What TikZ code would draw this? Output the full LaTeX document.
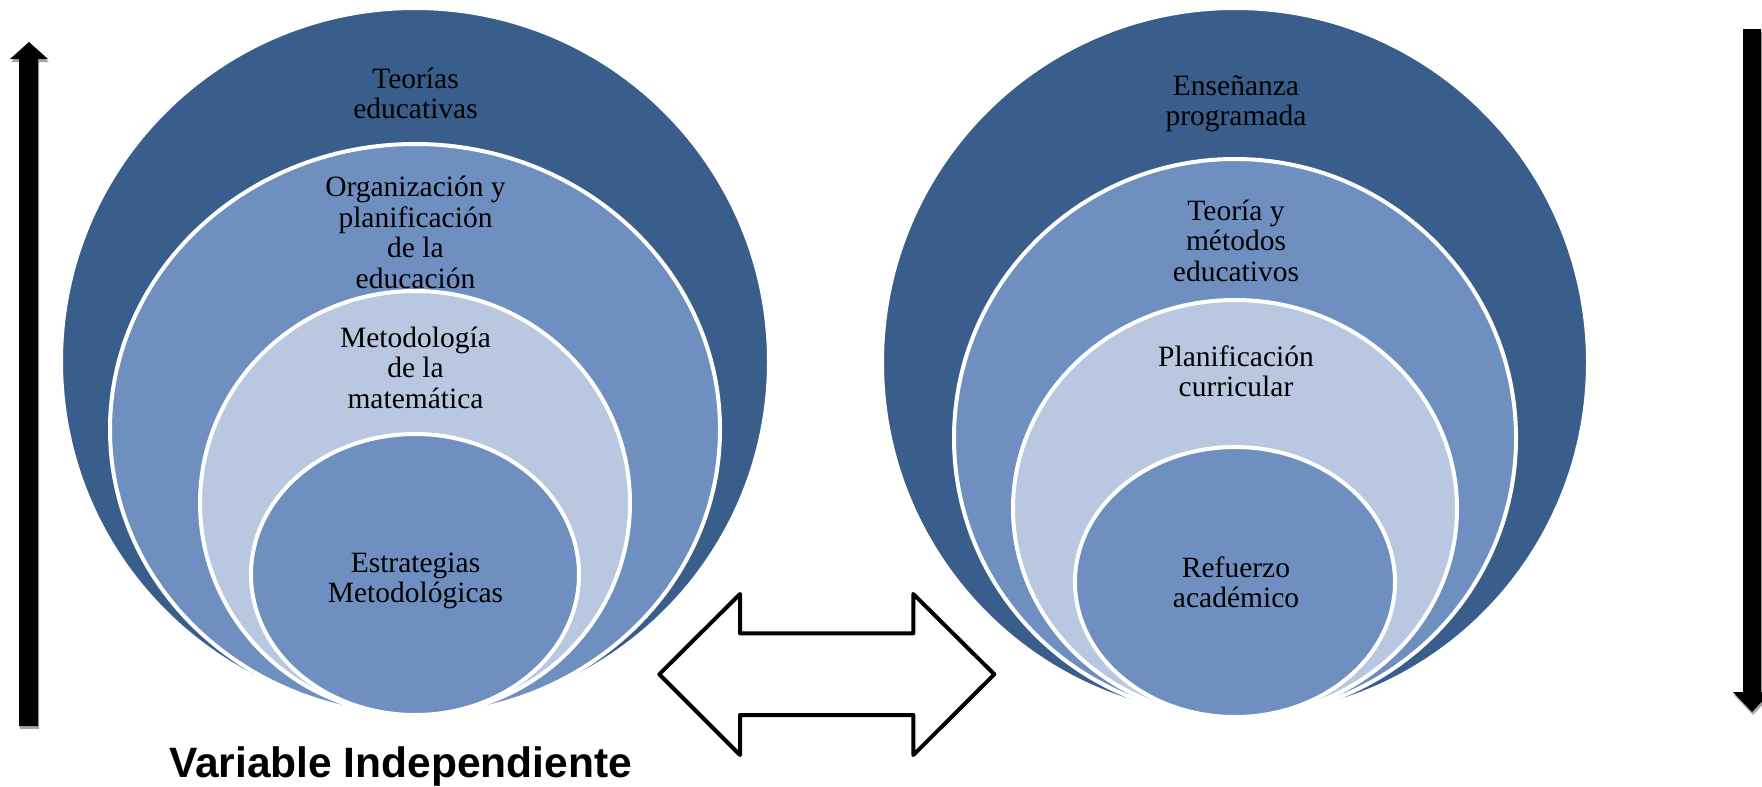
\documentclass[tikz,border=0pt]{standalone}
\usepackage{fontspec}
\setmainfont{Liberation Serif}
\newfontfamily\rotulofont{Liberation Sans}
\usetikzlibrary{shapes,arrows,positioning,shadows}

\begin{document}
\begin{tikzpicture}[x=1pt,y=-1pt]
    % Colores
    \definecolor{azuloscuro}{RGB}{58,94,139}
    \definecolor{azulmedio}{RGB}{110,143,192}
    \definecolor{azulclaro}{RGB}{185,199,224}

    \tikzset{
        anillo/.style={ellipse, draw=white, line width=4pt, inner sep=0pt},
        texto/.style={align=center, anchor=base, font=\fontsize{29.5}{30.5}\selectfont},
        flecha/.style={fill=black, drop shadow={shadow xshift=1pt, shadow yshift=-3pt, fill=gray!70, opacity=1}}
    }

    \useasboundingbox (0,0) rectangle (1762,787);

    % Circulos izquierdos
    \node[anillo, fill=azuloscuro, minimum width=708, minimum height=707] (L1) at (415,361.5) {};
    \node[anillo, fill=azulmedio, minimum width=610, minimum height=571] (L2) at (415,429.5) {};
    \node[anillo, fill=azulclaro, minimum width=430, minimum height=424] (L3) at (415,503) {};
    \node[anillo, fill=azulmedio, minimum width=328, minimum height=281] (L4) at (415,574.5) {};

    % Circulos derechos
    \node[anillo, fill=azuloscuro, minimum width=706, minimum height=709] (R1) at (1235,362.5) {};
    \node[anillo, fill=azulmedio, minimum width=562, minimum height=558] (R2) at (1235,438) {};
    \node[anillo, fill=azulclaro, minimum width=444, minimum height=417] (R3) at (1235,508.5) {};
    \node[anillo, fill=azulmedio, minimum width=320, minimum height=270] (R4) at (1235,582) {};

    % Etiquetas izquierdas (base = ultima linea)
    \node[texto] (teorias) at (415.5,118.5) {Teorías\\educativas};
    \node[texto] (organizacion) at (415.5,288.2) {Organización y\\planificación\\de la\\educación};
    \node[texto] (metodologia) at (415.5,408) {Metodología\\de la\\matemática};
    \node[texto] (estrategias) at (415.5,602.5) {Estrategias\\Metodológicas};

    % Etiquetas derechas
    \node[texto] (ensenanza) at (1236,125.5) {Enseñanza\\programada};
    \node[texto] (metodos) at (1236,281) {Teoría y\\métodos\\educativos};
    \node[texto] (planificacion) at (1236,396.5) {Planificación\\curricular};
    \node[texto] (refuerzo) at (1236,607.5) {Refuerzo\\académico};

    % Flechas verticales
    \fill[flecha] (19,726) -- (19,59) -- (10,59) -- (29,42) -- (48,59) -- (38,59) -- (38,726) -- cycle;
    \fill[flecha] (1743,29) -- (1743,692) -- (1733,692) -- (1752,712) -- (1771,692) -- (1761,692) -- (1761,29) -- cycle;

    % Flecha doble
    \draw[line width=4pt, line join=round, fill=white] (659.3,674.3) -- (740,594) -- (740,633.3) -- (913.3,633.3) -- (913.3,594)
        -- (994.3,674.3) -- (913.3,755) -- (913.3,715) -- (740,715) -- (740,755) -- cycle;

    % Titulo
    \node[anchor=base, font=\rotulofont\bfseries\fontsize{42.5}{45}\selectfont] (variable) at (400.5,777) {Variable Independiente};
\end{tikzpicture}
\end{document}
